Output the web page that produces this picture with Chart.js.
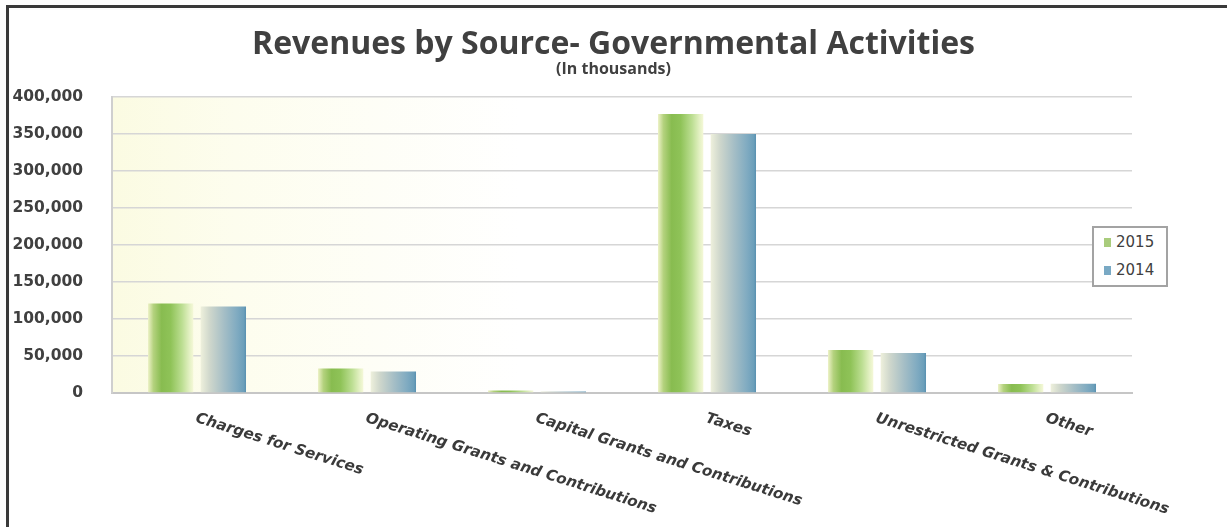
<!DOCTYPE html>
<html>
<head>
<meta charset="utf-8">
<script src="https://cdn.jsdelivr.net/npm/chart.js@4.4.1/dist/chart.umd.min.js"></script>
<style>
  body { margin: 0; background: #fff; }
  #wrap { position: relative; width: 1227px; height: 527px; overflow: hidden; }
  #frame { position: absolute; left: 6px; top: 5px; right: 0; bottom: 0;
           border-top: 3px solid #3a3a3a; border-left: 3px solid #3a3a3a; pointer-events: none; }
  #legend { position: absolute; left: 1092px; top: 226px; width: 72px; height: 57px;
            border: 2px solid #a3a3a3; background: #fff;
            font: 15px "DejaVu Sans", sans-serif; color: #404040; }
  #legend div { position: absolute; left: 10px; }
  #legend span { display: inline-block; width: 7px; height: 9px; margin-right: 5px; vertical-align: 0px; }
</style>
</head>
<body>
<div id="wrap">
  <canvas id="myChart" width="1227" height="527"></canvas>
  <div id="frame"></div>
  <div id="legend">
    <div style="top:5px"><span style="background:#a9cc7c"></span>2015</div>
    <div style="top:33px"><span style="background:#79a9c4"></span>2014</div>
  </div>
</div>
<script>
var categories = [
    "Charges for Services",
    "Operating Grants and Contributions",
    "Capital Grants and Contributions",
    "Taxes",
    "Unrestricted Grants & Contributions",
    "Other"
];
var values2015 = [121000, 33000, 3500, 377000, 58000, 12000];
var values2014 = [117000, 29000, 2000, 350000, 54000, 12500];
var yTicks = [0, 50000, 100000, 150000, 200000, 250000, 300000, 350000, 400000];

// horizontal gradient across one bar, built from the bar element itself
function barGradient(stops, flat) {
    return function (c) {
        var chart = c.chart;
        var meta = chart.getDatasetMeta(c.datasetIndex);
        var el = meta.data[c.dataIndex];
        if (!el || el.width === undefined || isNaN(el.x)) return flat;
        var left = el.x - el.width / 2;
        var g = chart.ctx.createLinearGradient(left, 0, left + el.width, 0);
        stops.forEach(function (s) { g.addColorStop(s[0], s[1]); });
        return g;
    };
}

var greenStops = [[0, "#eef2c8"], [0.12, "#b4d27e"], [0.3, "#88bc50"], [0.5, "#8fc358"],
                  [0.75, "#bcde92"], [0.92, "#e4f1c4"], [1, "#f5f8d8"]];
var blueStops = [[0, "#eef0dc"], [0.2, "#cfd7cc"], [0.5, "#a7bfc6"], [0.8, "#80abc1"],
                 [0.95, "#6c9fba"], [1, "#5890b0"]];

// pale yellow wash on the left of the plot area
var plotBackground = {
    id: "plotBackground",
    beforeDraw: function (chart) {
        var a = chart.chartArea, ctx = chart.ctx;
        var g = ctx.createLinearGradient(a.left, 0, a.right, 0);
        g.addColorStop(0, "#fbfbe2");
        g.addColorStop(0.12, "#fdfdee");
        g.addColorStop(0.4, "#ffffff");
        g.addColorStop(1, "#ffffff");
        ctx.save();
        ctx.fillStyle = g;
        ctx.fillRect(a.left, a.top, a.right - a.left, a.bottom - a.top);
        ctx.restore();
    }
};

// category labels slanting down to the right, starting at each tick
var slantLabels = {
    id: "slantLabels",
    afterDraw: function (chart) {
        var xs = chart.scales.x, ctx = chart.ctx;
        var y = chart.chartArea.bottom + 25;
        ctx.save();
        ctx.font = "oblique bold 15px 'DejaVu Sans'";
        ctx.fillStyle = "#3a3a3a";
        ctx.textAlign = "left";
        ctx.textBaseline = "middle";
        categories.forEach(function (lab, i) {
            ctx.save();
            ctx.translate(xs.getPixelForValue(i) - 1, y);
            ctx.rotate(17.5 * Math.PI / 180);
            ctx.fillText(lab, 0, 0);
            ctx.restore();
        });
        ctx.restore();
    }
};

var ctx = document.getElementById("myChart").getContext("2d");
var chart = new Chart(ctx, {
    type: "bar",
    data: {
        labels: categories,
        datasets: [
            {
                label: "2015",
                data: values2015,
                backgroundColor: barGradient(greenStops, "#8dbf56"),
                borderWidth: 0,
                categoryPercentage: 0.62,
                barPercentage: 0.86
            },
            {
                label: "2014",
                data: values2014,
                backgroundColor: barGradient(blueStops, "#82adc2"),
                borderWidth: 0,
                categoryPercentage: 0.62,
                barPercentage: 0.86
            }
        ]
    },
    options: {
        responsive: false,
        animation: false,
        layout: { padding: { left: 10, right: 10, top: 0, bottom: 4 } },
        plugins: {
            legend: { display: false },
            tooltip: { enabled: false },
            title: {
                display: true,
                text: "Revenues by Source- Governmental Activities",
                color: "#404040",
                font: { family: "'Open Sans'", size: 32, weight: "bold", lineHeight: 1.1 },
                padding: { top: 27, bottom: 0 }
            },
            subtitle: {
                display: true,
                text: "(In thousands)",
                color: "#404040",
                font: { family: "'Open Sans'", size: 16, weight: "bold", lineHeight: 0.9 },
                padding: { top: 0, bottom: 20.4 }
            }
        },
        scales: {
            x: {
                grid: { display: false },
                border: { color: "#c6c6c6", width: 2 },
                ticks: { display: false },
                afterFit: function (s) { s.height = 130; }
            },
            y: {
                min: 0,
                max: 400000,
                afterBuildTicks: function (s) {
                    s.ticks = yTicks.map(function (v) { return { value: v }; });
                },
                afterFit: function (s) { s.width = 102; },
                grid: { color: "#d6d6d6", lineWidth: 1.5, drawTicks: false },
                border: { color: "#cfcfcf", width: 2 },
                ticks: {
                    color: "#404040",
                    padding: 29,
                    font: { family: "'DejaVu Sans'", size: 15.5, weight: "bold" },
                    callback: function (v) { return v.toLocaleString("en-US"); }
                }
            },
            // empty right-hand axis: keeps the plot clear of the right margin
            yRight: {
                position: "right",
                min: 0,
                max: 400000,
                grid: { display: false, drawTicks: false },
                border: { display: false },
                ticks: { display: false },
                afterFit: function (s) { s.width = 85; }
            }
        }
    },
    plugins: [plotBackground, slantLabels]
});
// second pass so the gradients see the laid-out bars
chart.update("none");
</script>
</body>
</html>
